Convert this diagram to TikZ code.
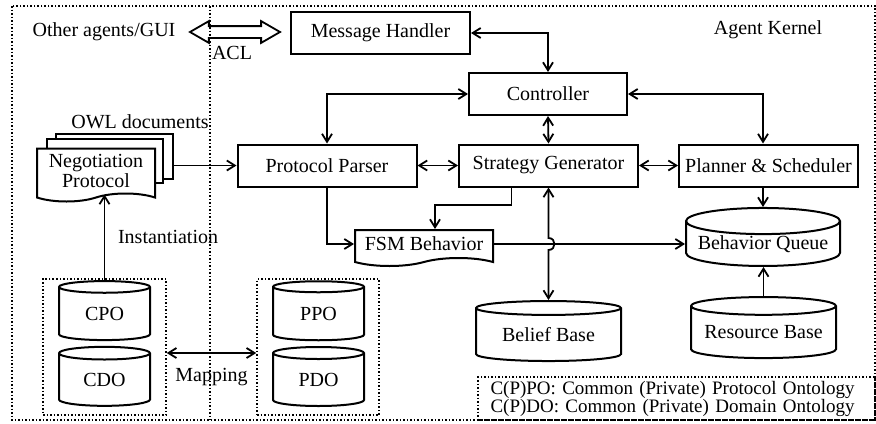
\documentclass[tikz,border=0pt]{standalone}
\usepackage{fontspec}
\setmainfont{Liberation Serif}
\usetikzlibrary{shapes.geometric,shapes.symbols,shapes.arrows,arrows.meta,calc}
\tikzset{
  box/.style={draw, line width=1pt, minimum width=89.5pt, minimum height=21pt, inner sep=0pt},
  db/.style={draw, cylinder, shape border rotate=90, line width=1pt, inner sep=0pt,
    minimum width=45.5pt, minimum height=29.5pt, aspect=0.3},
  doc/.style={draw, tape, tape bend top=none, tape bend height=4pt, line width=1pt,
    fill=white, inner sep=0pt},
  page/.style={draw, line width=1pt, fill=white, inner sep=0pt},
  frame/.style={densely dotted, line width=0.75pt},
  conn/.style={line width=0.9pt},
}
\begin{document}
\begin{tikzpicture}[x=0.5pt, y=-0.5pt, >={Straight Barb[length=4pt,width=5pt]},
  font=\fontsize{10}{9}\selectfont]
\useasboundingbox (0,0) rectangle (876,423);
% frames
\draw[frame] (12,6) rectangle (875,420);
\draw[frame] (210,6) -- (210,420);
\node[frame, draw, minimum width=61.5pt, minimum height=68pt] (cframe) at (104.5,347) {};
\node[frame, draw, minimum width=61pt, minimum height=68pt] (pframe) at (318,347) {};
\node[frame, draw, align=left, text width=186pt, inner xsep=6.25pt, inner ysep=0pt,
  minimum height=21.5pt, font=\fontsize{9.5}{9}\selectfont] (legend) at (676.5,398.5)
  {C(P)PO: Common (Private) Protocol Ontology\\C(P)DO: Common (Private) Domain Ontology};
% labels
\node (others) at (104,32) {Other agents/GUI};
\node[double arrow, draw, line width=0.9pt, minimum height=45pt, inner sep=2.5pt,
  double arrow head extend=2.5pt, double arrow tip angle=60] (acl) at (235,32) {};
\node (acltext) at (232,53) {ACL};
\node (kernel) at (768,30) {Agent Kernel};
\node (owl) at (140,122) {OWL documents};
% kernel boxes
\node[box] (mh) at (380.5,33) {Message Handler};
\node[box, minimum width=79pt] (ctrl) at (548,94) {Controller};
\node[box] (pp) at (327,165.5) {Protocol Parser};
\node[box] (sg) at (548.5,165.5) {Strategy Generator};
\node[box] (plan) at (768.5,165.5) {Planner \& Scheduler};
\node[doc, minimum width=69pt, minimum height=18pt] (fsm) at (424,244) {FSM Behavior};
% documents
\node[page, minimum width=58.5pt, minimum height=22.5pt] (page3) at (114.5,156.5) {};
\node[page, minimum width=58pt, minimum height=22pt] (page2) at (105,161) {};
\node[doc, minimum width=59pt, minimum height=26.5pt, align=center,
  font=\fontsize{10}{10}\selectfont] (np) at (96,171) {Negotiation\\Protocol};
% bases
\node[db] (cpo) at (104.5,314) {CPO};
\node[db] (cdo) at (104.5,380) {CDO};
\node[db] (ppo) at (318.5,314) {PPO};
\node[db] (pdo) at (318.5,380) {PDO};
\node[db, minimum width=72.5pt, minimum height=30pt, aspect=0.15] (bb) at (548.5,335) {Belief Base};
\node[db, minimum width=77pt, minimum height=29pt, aspect=0.2] (bq) at (763,244) {Behavior Queue};
\node[db, minimum width=72.5pt, minimum height=30.5pt, aspect=0.15] (rb) at (763.5,332.5) {Resource Base};
% connectors
\draw[conn, <->] (mh.east) -| (ctrl.north);
\draw[conn, <->] (ctrl.west) -| (pp.north);
\draw[conn, <->] (ctrl.east) -| (plan.north -| bq.north);
\draw[conn, <->] (ctrl.south) -- (sg.north);
\draw[conn, <->] (pp.east) -- (sg.west);
\draw[conn, <->] (sg.east) -- (plan.west);
\draw[conn, ->] (plan.south -| bq.north) -- (bq.north);
\draw[conn, ->] (rb.north) -- (rb.north |- bq.south);
\draw[conn, ->] (page3.east |- pp.west) -- (pp.west);
\draw[conn, ->] (cpo.north) -- (cpo.north |- np.south)
  node[midway, right=3pt] {Instantiation};
\draw[conn, <->] ([yshift=-3pt]cframe.east) -- ([yshift=-3pt]pframe.west)
  node[midway, below=4pt] {Mapping};
\draw[conn, ->] (pp.south) |- (fsm.west);
\draw[conn, ->] ([xshift=-18.5pt]sg.south) |- ([xshift=5.5pt,yshift=12pt]fsm.north)
  -- ([xshift=5.5pt]fsm.north);
\draw[conn, ->] (fsm.east) -- (fsm.east -| bq.west);
\draw[conn, <->] (sg.south) -- ($(sg.south |- fsm.east)+(0,-6)$)
  to[out=0, in=0, looseness=1.7] ($(sg.south |- fsm.east)+(0,6)$) -- (bb.north);
\end{tikzpicture}
\end{document}
